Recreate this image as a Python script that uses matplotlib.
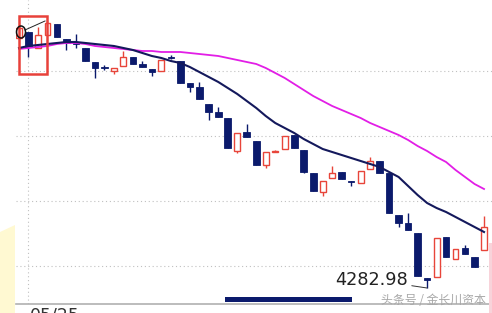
import matplotlib
matplotlib.use('Agg')
import matplotlib.pyplot as plt
from matplotlib.patches import Rectangle, Ellipse, Polygon
from matplotlib.lines import Line2D
import numpy as np

# daily candles (open, high, low, close)
opens = [5033, 5051, 5003, 5042, 5075, 5030, 5018, 5003, 4961, 4946,
         4934, 4949, 4976, 4955, 4940, 4934, 4976, 4964, 4898, 4886,
         4835, 4811, 4793, 4694, 4751, 4724, 4652, 4691, 4700, 4742,
         4697, 4628, 4571, 4613, 4631, 4604, 4598, 4640, 4664, 4628,
         4502, 4478, 4448, 4313, 4316, 4436, 4370, 4403, 4376, 4397]
highs = [5069, 5051, 5066, 5087, 5075, 5030, 5045, 5003, 4961, 4952,
         4943, 4994, 4976, 4964, 4940, 4967, 4982, 4964, 4898, 4901,
         4835, 4826, 4793, 4748, 4775, 4724, 4691, 4697, 4739, 4742,
         4697, 4628, 4604, 4649, 4631, 4604, 4634, 4676, 4664, 4628,
         4502, 4508, 4448, 4313, 4433, 4436, 4400, 4412, 4376, 4499]
lows = [5030, 4976, 5003, 5042, 5036, 4997, 5003, 4964, 4913, 4937,
        4925, 4949, 4955, 4946, 4919, 4934, 4970, 4898, 4871, 4850,
        4787, 4796, 4703, 4688, 4736, 4652, 4643, 4691, 4700, 4703,
        4628, 4574, 4559, 4613, 4610, 4589, 4598, 4640, 4628, 4508,
        4466, 4457, 4319, 4282.98, 4316, 4376, 4370, 4385, 4346, 4397]
closes = [5063, 5006, 5042, 5078, 5036, 5018, 5015, 4964, 4943, 4943,
          4943, 4976, 4955, 4946, 4931, 4967, 4973, 4898, 4886, 4850,
          4811, 4796, 4703, 4748, 4736, 4652, 4691, 4694, 4739, 4703,
          4631, 4574, 4604, 4628, 4610, 4601, 4634, 4664, 4628, 4508,
          4478, 4457, 4319, 4307, 4433, 4376, 4400, 4385, 4346, 4466]

# moving averages as drawn
ma_short = [5003, 5009, 5012, 5015, 5018, 5021, 5021, 5018, 5015, 5012,
            5009, 5003, 4997, 4988, 4979, 4973, 4964, 4958, 4946, 4931,
            4916, 4901, 4883, 4865, 4844, 4823, 4799, 4778, 4763, 4748,
            4730, 4715, 4700, 4691, 4682, 4673, 4664, 4655, 4646, 4631,
            4616, 4589, 4562, 4538, 4523, 4511, 4496, 4481, 4466, 4451]
ma_long = [5000, 5003, 5006, 5009, 5015, 5018, 5018, 5015, 5009, 5006,
           5003, 5000, 4997, 4994, 4994, 4991, 4991, 4991, 4988, 4985,
           4982, 4979, 4973, 4967, 4961, 4955, 4943, 4928, 4913, 4895,
           4877, 4859, 4844, 4829, 4817, 4805, 4793, 4778, 4766, 4754,
           4742, 4727, 4709, 4694, 4676, 4661, 4637, 4616, 4595, 4580]

grid_levels = [4349, 4544, 4739, 4934]
first_date = '05/25'

NAVY = '#0b1a6c'
RED = '#e8453a'
W, H = 492, 313

fig = plt.figure(figsize=(4.92, 3.13), dpi=100)
ax = fig.add_axes([16 / W, 9 / H, 476 / W, 304 / H])

x = np.arange(len(opens))
o = np.array(opens, float)
c = np.array(closes, float)
up = c > o

# wicks
ax.vlines(x, lows, highs, color=np.where(up, RED, NAVY), lw=1, zorder=2)
# bodies
bottom = np.minimum(o, c)
height = np.maximum(np.abs(c - o), 2.5)
ax.bar(x[up], height[up], bottom=bottom[up], width=0.62,
       facecolor='white', edgecolor=RED, lw=1, zorder=3)
ax.bar(x[~up], height[~up], bottom=bottom[~up], width=0.7,
       facecolor=NAVY, edgecolor=NAVY, lw=0.6, zorder=3)

ax.plot(x, ma_long, color='#e21ee6', lw=1.3, zorder=4)
ax.plot(x, ma_short, color='#14195c', lw=1.5, zorder=5)

ax.set_xlim(-0.316, 49.84)
ax.set_ylim(4234.98, 5146.98)
ax.set_yticks(grid_levels)
ax.set_xticks([1])
ax.grid(True, color='#c0c0c0', lw=0.8, linestyle=(0, (1, 2.5)))
ax.set_axisbelow(True)
ax.tick_params(length=0, labelleft=False, labelbottom=False)
for s in ['top', 'left', 'right']:
    ax.spines[s].set_visible(False)
ax.spines['bottom'].set_color('#b0b0b0')
ax.spines['bottom'].set_linewidth(1.2)

# low annotation
i_low = int(np.argmin(lows))
ax.annotate(f'{lows[i_low]:.2f}', xy=(i_low, lows[i_low]),
            xytext=(-14, 6), textcoords='offset points',
            ha='right', va='center', fontsize=12.7, color='#222222',
            arrowprops=dict(arrowstyle='-', color='#333333', lw=0.7,
                            shrinkA=1, shrinkB=0), zorder=6)

def px(xp, yp):
    return (xp / W, 1 - yp / H)

# yellow band at left
fig.patches.append(Polygon([px(0, 232), px(15, 225), px(15, 313), px(0, 313)],
                           closed=True, transform=fig.transFigure,
                           facecolor='#fff9d2', edgecolor='none', zorder=0))
# scroll bar
fig.patches.append(Rectangle(px(225, 302), 127 / W, 5 / H, transform=fig.transFigure,
                             facecolor=NAVY, edgecolor='none', zorder=5))
# pink strip at right edge
fig.patches.append(Rectangle(px(489, 313), 3 / W, 70 / H, transform=fig.transFigure,
                             facecolor='#f8d3da', edgecolor='none', zorder=5))

# hand-drawn marks at top left
fig.patches.append(Rectangle(px(18.5, 73.5), 28 / W, 58 / H, transform=fig.transFigure,
                             facecolor='none', edgecolor='#e8413a', lw=1.8, zorder=10))
fig.patches.append(Ellipse(px(21, 32), 9 / W, 12 / H, transform=fig.transFigure,
                           facecolor='none', edgecolor='#111111', lw=1.1, zorder=10))
fig.lines.append(Line2D([25 / W, 45 / W], [1 - 30 / H, 1 - 21 / H],
                        transform=fig.transFigure, color='#222222', lw=0.7, zorder=10))

fig.text(30 / W, 1 - 307 / H, first_date, fontsize=12.5, color='#333333',
         ha='left', va='top')
fig.text(433 / W, 1 - 300 / H, '头条号 / 金长川资本', fontsize=8.6,
         color='#a8a8a8', ha='center', va='center',
         family=['Noto Sans CJK SC', 'DejaVu Sans'])

fig.savefig('out.png', dpi=100)
